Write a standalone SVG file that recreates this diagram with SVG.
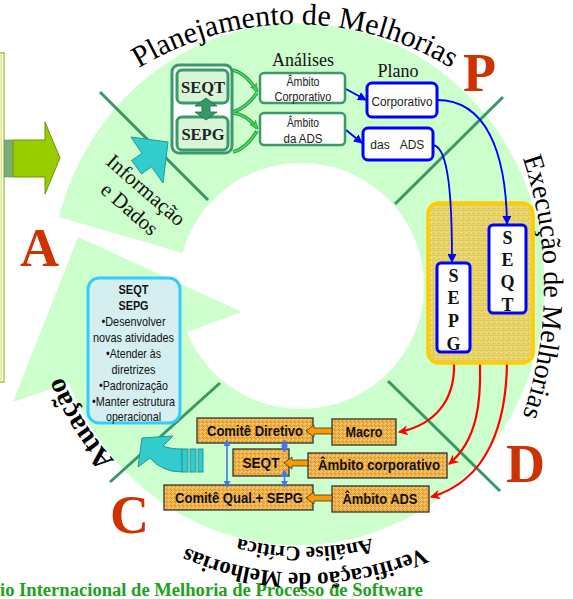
<svg xmlns="http://www.w3.org/2000/svg" width="573" height="599" viewBox="0 0 573 599">
<defs>
<style>
.serif{font-family:"Liberation Serif","Times New Roman",serif}
.sans{font-family:"Liberation Sans",Arial,sans-serif}
.big{font-family:"Liberation Serif","Times New Roman",serif;font-weight:bold;font-size:54px;fill:#cc3300}
.div{stroke:#339966;stroke-width:3;fill:none}
.gbox{fill:#fff;stroke:#3a9a6a;stroke-width:2.5}
.bbox{fill:#fff;stroke:#0000ff;stroke-width:3}
.obox{fill:url(#orangeTex);stroke:#333;stroke-width:1.3}
.otxt{font-family:"Liberation Sans",Arial,sans-serif;font-weight:bold;font-size:14px;fill:#111;text-anchor:middle}
.stxt{font-family:"Liberation Sans",Arial,sans-serif;font-size:12px;fill:#222;text-anchor:middle}
.ctxt{font-family:"Liberation Sans",Arial,sans-serif;font-size:13px;fill:#111;text-anchor:middle}
.vl{font-family:"Liberation Serif","Times New Roman",serif;font-weight:bold;font-size:18px;fill:#111;text-anchor:middle}
.oarr{fill:#ff9900;stroke:#333;stroke-width:0.8}
.blue{stroke:#0000ff;stroke-width:1.8;fill:none}
.red{stroke:#ff0000;stroke-width:2.2;fill:none}
.lb{stroke:#4477ee;stroke-width:1.6;fill:none}
.cy{fill:#33cccc;stroke:#1a9a9a;stroke-width:1}
</style>
<pattern id="orangeTex" width="4" height="4" patternUnits="userSpaceOnUse">
<rect width="4" height="4" fill="#eeae48"/>
<rect x="0" y="0" width="1" height="1" fill="#f8d070"/>
<rect x="2" y="1" width="1" height="1" fill="#d88820"/>
<rect x="1" y="3" width="1" height="1" fill="#fbe08a"/>
<rect x="3" y="2" width="1" height="1" fill="#e29a30"/>
</pattern>
<pattern id="yellowTex" width="5" height="5" patternUnits="userSpaceOnUse">
<rect width="5" height="5" fill="#e8d36a"/>
<rect x="0" y="0" width="5" height="0.6" fill="#d8c458"/>
<rect x="1" y="2" width="1" height="1" fill="#f6ec9e"/>
<rect x="3" y="3" width="1" height="1" fill="#d4b840"/>
<rect x="4" y="1" width="1" height="1" fill="#f3e28a"/>
</pattern>
<marker id="mb" viewBox="0 0 10 10" refX="9" refY="5" markerWidth="9" markerHeight="9" markerUnits="userSpaceOnUse" orient="auto"><path d="M0,0 L10,5 L0,10 Z" fill="#0000ff"/></marker>
<marker id="mr" viewBox="0 0 10 10" refX="9" refY="5" markerWidth="10" markerHeight="10" markerUnits="userSpaceOnUse" orient="auto"><path d="M0,0 L10,5 L0,10 L3,5 Z" fill="#ff0000"/></marker>
<marker id="ml" viewBox="0 0 10 10" refX="9" refY="5" markerWidth="7" markerHeight="7" markerUnits="userSpaceOnUse" orient="auto-start-reverse"><path d="M0,0 L10,5 L0,10 Z" fill="#4477ee"/></marker>
<marker id="mg" viewBox="0 0 10 10" refX="8" refY="5" markerWidth="9" markerHeight="9" markerUnits="userSpaceOnUse" orient="auto"><path d="M0,1 L10,5 L0,9 L3,5 Z" fill="#33dd33" stroke="#2d8f5a" stroke-width="0.6"/></marker>
<path id="pTop" d="M-4.95,318.8 A300,300 0 0 1 594.95,318.8"/>
<path id="pRight" d="M142,-115 A402,402 0 0 1 142,689"/>
<path id="pVer" d="M595,283 A290,290 0 0 1 15,283"/>
<path id="pAna" d="M569,283 A264,264 0 0 1 41,283"/>
<path id="pAtu" d="M444.4,506 A263,263 0 0 1 165.6,60"/>
</defs>

<rect width="573" height="599" fill="#fff"/>

<g id="ring">
<path d="M59,217 A247,261 0 1 1 69,383 L13,402 L78,237 L242,312 L187,332.1 A123,123 0 1 0 182.5,253.1 Z" fill="#ccffcc"/>
</g>

<g id="dividers">
<line class="div" x1="100" y1="92" x2="208" y2="200"/>
<line class="div" x1="503" y1="97" x2="395" y2="204"/>
<line class="div" x1="388" y1="381" x2="500" y2="491"/>
<line class="div" x1="220" y1="383" x2="110" y2="482"/>
</g>

<g id="left-panel">
<path d="M-2,53 L4,53 L4,382 L-2,382" fill="none" stroke="#a8c030" stroke-width="1.3"/>
<path d="M-2,55.5 L1.2,55.5 L1.2,379.5 L-2,379.5" fill="none" stroke="#d4e070" stroke-width="1.2"/>
</g>

<g id="arrow-A">
<rect x="4.5" y="140" width="3" height="37" fill="#77b077" stroke="#4f8f4f" stroke-width="0.6"/>
<rect x="8.5" y="140" width="4" height="37" fill="#77b077" stroke="#4f8f4f" stroke-width="0.6"/>
<polygon points="13,140 45,140 45,122 60,158 45,194 45,177 13,177" fill="#99cc00" stroke="#6b9900" stroke-width="1"/>
</g>

<g id="letters">
<text class="big" x="463" y="91">P</text>
<text class="big" x="20" y="266">A</text>
<text class="big" x="110" y="533">C</text>
<text class="big" x="506" y="482">D</text>
</g>

<g id="footer">
<text class="serif" x="0" y="595.5" font-size="18.5" font-weight="bold" fill="#22a022" textLength="423" lengthAdjust="spacingAndGlyphs">io Internacional de Melhoria de Processo de Software</text>
</g>

<g id="arc-labels">
<text class="serif" font-size="30" fill="#000"><textPath href="#pTop" startOffset="50%" text-anchor="middle">Planejamento de Melhorias</textPath></text>
<text class="serif" font-size="28" fill="#000"><textPath href="#pRight" startOffset="50%" text-anchor="middle">Execução de Melhorias</textPath></text>
<text class="serif" font-size="23" font-weight="bold" fill="#000"><textPath href="#pVer" startOffset="50%" text-anchor="middle">Verificação de Melhorias</textPath></text>
<text class="serif" font-size="21" font-weight="bold" fill="#000"><textPath href="#pAna" startOffset="50%" text-anchor="middle">Análise Crítica</textPath></text>
<text class="serif" font-size="28" font-weight="bold" fill="#000"><textPath href="#pAtu" startOffset="50%" text-anchor="middle">Atuação</textPath></text>
</g>

<g id="info-dados" transform="translate(146,190) rotate(41)">
<text class="serif" x="0" y="7" font-size="21" text-anchor="middle" fill="#111">Informação</text>
<text class="serif" x="0" y="32" font-size="21" text-anchor="middle" fill="#111">e Dados</text>
</g>

<g id="arrow-info">
<polygon class="cy" points="168,142 131,137 142,153.4 131.6,160.5 141.6,174 151.5,166.6 163,183"/>
</g>

<g id="connectors">
<path d="M233,70 Q246,73 257,91" fill="none" stroke="#2d8f5a" stroke-width="3.5"/>
<path d="M233,112 Q246,108 257,93" fill="none" stroke="#2d8f5a" stroke-width="3.5"/>
<path d="M233,113 Q246,114 257,128" fill="none" stroke="#2d8f5a" stroke-width="3.5"/>
<path d="M233,152 Q246,149 257,131" fill="none" stroke="#2d8f5a" stroke-width="3.5"/>
<path d="M233,70 Q246,73 257,91" fill="none" stroke="#44ee44" stroke-width="1.4" marker-end="url(#mg)"/>
<path d="M233,112 Q246,108 257,93" fill="none" stroke="#44ee44" stroke-width="1.4"/>
<path d="M233,113 Q246,114 257,128" fill="none" stroke="#44ee44" stroke-width="1.4" marker-end="url(#mg)"/>
<path d="M233,152 Q246,149 257,131" fill="none" stroke="#44ee44" stroke-width="1.4"/>
<path class="blue" d="M346,89 L366,100" marker-end="url(#mb)"/>
<path class="blue" d="M346,130 L362,143" marker-end="url(#mb)"/>
<path class="red" d="M454,364 C455,400 435,425 399,432" marker-end="url(#mr)"/>
<path class="red" d="M480,364 C481,400 478,440 449,464" marker-end="url(#mr)"/>
<path class="red" d="M507,364 C506,420 490,480 431,497" marker-end="url(#mr)"/>
</g>

<g id="seqt-sepg-group">
<rect x="172" y="65" width="60" height="88" rx="7" fill="#fff" stroke="#3a9a6a" stroke-width="3"/>
<rect x="177" y="70" width="51" height="33" rx="5" fill="#d8f5d8" stroke="#3a9a6a" stroke-width="3"/>
<rect x="177" y="117" width="51" height="33" rx="5" fill="#d8f5d8" stroke="#3a9a6a" stroke-width="3"/>
<text class="serif" x="203" y="93" font-size="16.5" font-weight="bold" text-anchor="middle" fill="#222">SEQT</text>
<text class="serif" x="203" y="140" font-size="16.5" font-weight="bold" text-anchor="middle" fill="#222">SEPG</text>
<polygon points="206,98 217,106 210,106 210,112 217,112 206,120 195,112 202,112 202,106 195,106" fill="#339966" stroke="#1d6b44" stroke-width="0.8"/>
</g>

<g id="analises">
<text class="serif" x="303" y="66" font-size="18" text-anchor="middle" fill="#111">Análises</text>
<g id="amb-corp">
<rect class="gbox" x="260" y="73" width="85" height="30" rx="4"/>
<text class="stxt" x="303" y="86" textLength="33" lengthAdjust="spacingAndGlyphs">Âmbito</text>
<text class="stxt" x="303" y="101" textLength="57" lengthAdjust="spacingAndGlyphs">Corporativo</text>
</g>
<g id="amb-ads">
<rect class="gbox" x="260" y="113" width="85" height="32" rx="4"/>
<text class="stxt" x="303" y="127" textLength="32" lengthAdjust="spacingAndGlyphs">Âmbito</text>
<text class="stxt" x="303" y="143" textLength="39" lengthAdjust="spacingAndGlyphs">da ADS</text>
</g>
</g>

<g id="plano">
<text class="serif" x="398" y="77" font-size="18" text-anchor="middle" fill="#111">Plano</text>
<g id="plano-corp">
<rect class="bbox" x="367" y="83" width="70" height="34" rx="5"/>
<text class="stxt" x="402" y="106" textLength="61" lengthAdjust="spacingAndGlyphs">Corporativo</text>
</g>
<g id="plano-ads">
<rect class="bbox" x="363" y="128" width="70" height="32" rx="5"/>
<text class="stxt" x="380" y="149">das</text>
<text class="stxt" x="412" y="149">ADS</text>
</g>
</g>

<g id="execucao-box">
<rect x="428" y="203" width="105" height="160" rx="11" fill="url(#yellowTex)" stroke="#ffcc00" stroke-width="3.5"/>
<g id="sepg-v">
<rect class="bbox" x="437" y="263" width="33" height="89" rx="4"/>
<text class="vl" x="453.5" y="282">S</text>
<text class="vl" x="453.5" y="304">E</text>
<text class="vl" x="453.5" y="327">P</text>
<text class="vl" x="453.5" y="350">G</text>
</g>
<g id="seqt-v">
<rect class="bbox" x="489" y="225" width="37" height="88" rx="4"/>
<text class="vl" x="507.5" y="244">S</text>
<text class="vl" x="507.5" y="266">E</text>
<text class="vl" x="507.5" y="288">Q</text>
<text class="vl" x="507.5" y="311">T</text>
</g>
</g>

<g id="plan-connectors">
<path class="blue" d="M437,100 C485,100 506,150 507,224" marker-end="url(#mb)"/>
<path class="blue" d="M433,145 C449,147 452,200 452,262" marker-end="url(#mb)"/>
</g>

<g id="atuacao-box">
<rect x="88" y="278" width="92" height="145" rx="11" fill="#d5eff0" stroke="#33ccff" stroke-width="3"/>
<text class="ctxt" x="133.5" y="294" font-weight="bold" textLength="30" lengthAdjust="spacingAndGlyphs">SEQT</text>
<text class="ctxt" x="133.5" y="310" font-weight="bold" textLength="30" lengthAdjust="spacingAndGlyphs">SEPG</text>
<text class="ctxt" x="133.5" y="326" textLength="64" lengthAdjust="spacingAndGlyphs">•Desenvolver</text>
<text class="ctxt" x="133.5" y="342" textLength="81" lengthAdjust="spacingAndGlyphs">novas atividades</text>
<text class="ctxt" x="133.5" y="358" textLength="55" lengthAdjust="spacingAndGlyphs">•Atender às</text>
<text class="ctxt" x="133.5" y="374" textLength="44" lengthAdjust="spacingAndGlyphs">diretrizes</text>
<text class="ctxt" x="133.5" y="390" textLength="69" lengthAdjust="spacingAndGlyphs">•Padronização</text>
<text class="ctxt" x="133.5" y="406" textLength="83" lengthAdjust="spacingAndGlyphs">•Manter estrutura</text>
<text class="ctxt" x="133.5" y="421" textLength="55" lengthAdjust="spacingAndGlyphs">operacional</text>
</g>

<g id="arrow-atuacao">
<path class="cy" d="M142,438 L173,436 L163,446 Q170,449 182,449 L182,472 Q162,472 150,458 L138,467 Z"/>
<rect class="cy" x="182" y="449" width="6" height="23"/>
<rect class="cy" x="190" y="449" width="6" height="23"/>
<rect class="cy" x="198" y="449" width="5" height="23"/>
</g>

<g id="verificacao">
<g id="comite-diretivo"><rect class="obox" x="197" y="418" width="116" height="25"/><text class="otxt" x="255" y="436" textLength="96" lengthAdjust="spacingAndGlyphs">Comitê Diretivo</text></g>
<g id="macro"><rect class="obox" x="332" y="419" width="64" height="26"/><text class="otxt" x="364" y="437" textLength="37" lengthAdjust="spacingAndGlyphs">Macro</text></g>
<g id="seqt-b"><rect class="obox" x="233" y="449" width="56" height="27"/><text class="otxt" x="261" y="468" textLength="37" lengthAdjust="spacingAndGlyphs">SEQT</text></g>
<g id="ambito-corp"><rect class="obox" x="308" y="453" width="139" height="25"/><text class="otxt" x="379" y="470" textLength="122" lengthAdjust="spacingAndGlyphs">Âmbito corporativo</text></g>
<g id="comite-qual"><rect class="obox" x="164" y="485" width="149" height="25"/><text class="otxt" x="239" y="503" textLength="128" lengthAdjust="spacingAndGlyphs">Comitê Qual.+ SEPG</text></g>
<g id="ambito-ads"><rect class="obox" x="332" y="486" width="97" height="26"/><text class="otxt" x="380" y="504" textLength="75" lengthAdjust="spacingAndGlyphs">Âmbito ADS</text></g>
</g>

<g id="connectors-bottom">
<polygon class="oarr" points="306,431 314,425 314,428 332,428 332,434 314,434 314,437"/>
<polygon class="oarr" points="284,463 292,457 292,460 308,460 308,466 292,466 292,469"/>
<polygon class="oarr" points="306,498 314,492 314,495 332,495 332,501 314,501 314,504"/>
<path class="lb" d="M227,440 L227,487" marker-start="url(#ml)" marker-end="url(#ml)"/>
<path class="lb" d="M284.5,440 L284.5,452" marker-start="url(#ml)" marker-end="url(#ml)"/>
<path class="lb" d="M284.5,470 L284.5,487" marker-start="url(#ml)" marker-end="url(#ml)"/>
</g>
</svg>
